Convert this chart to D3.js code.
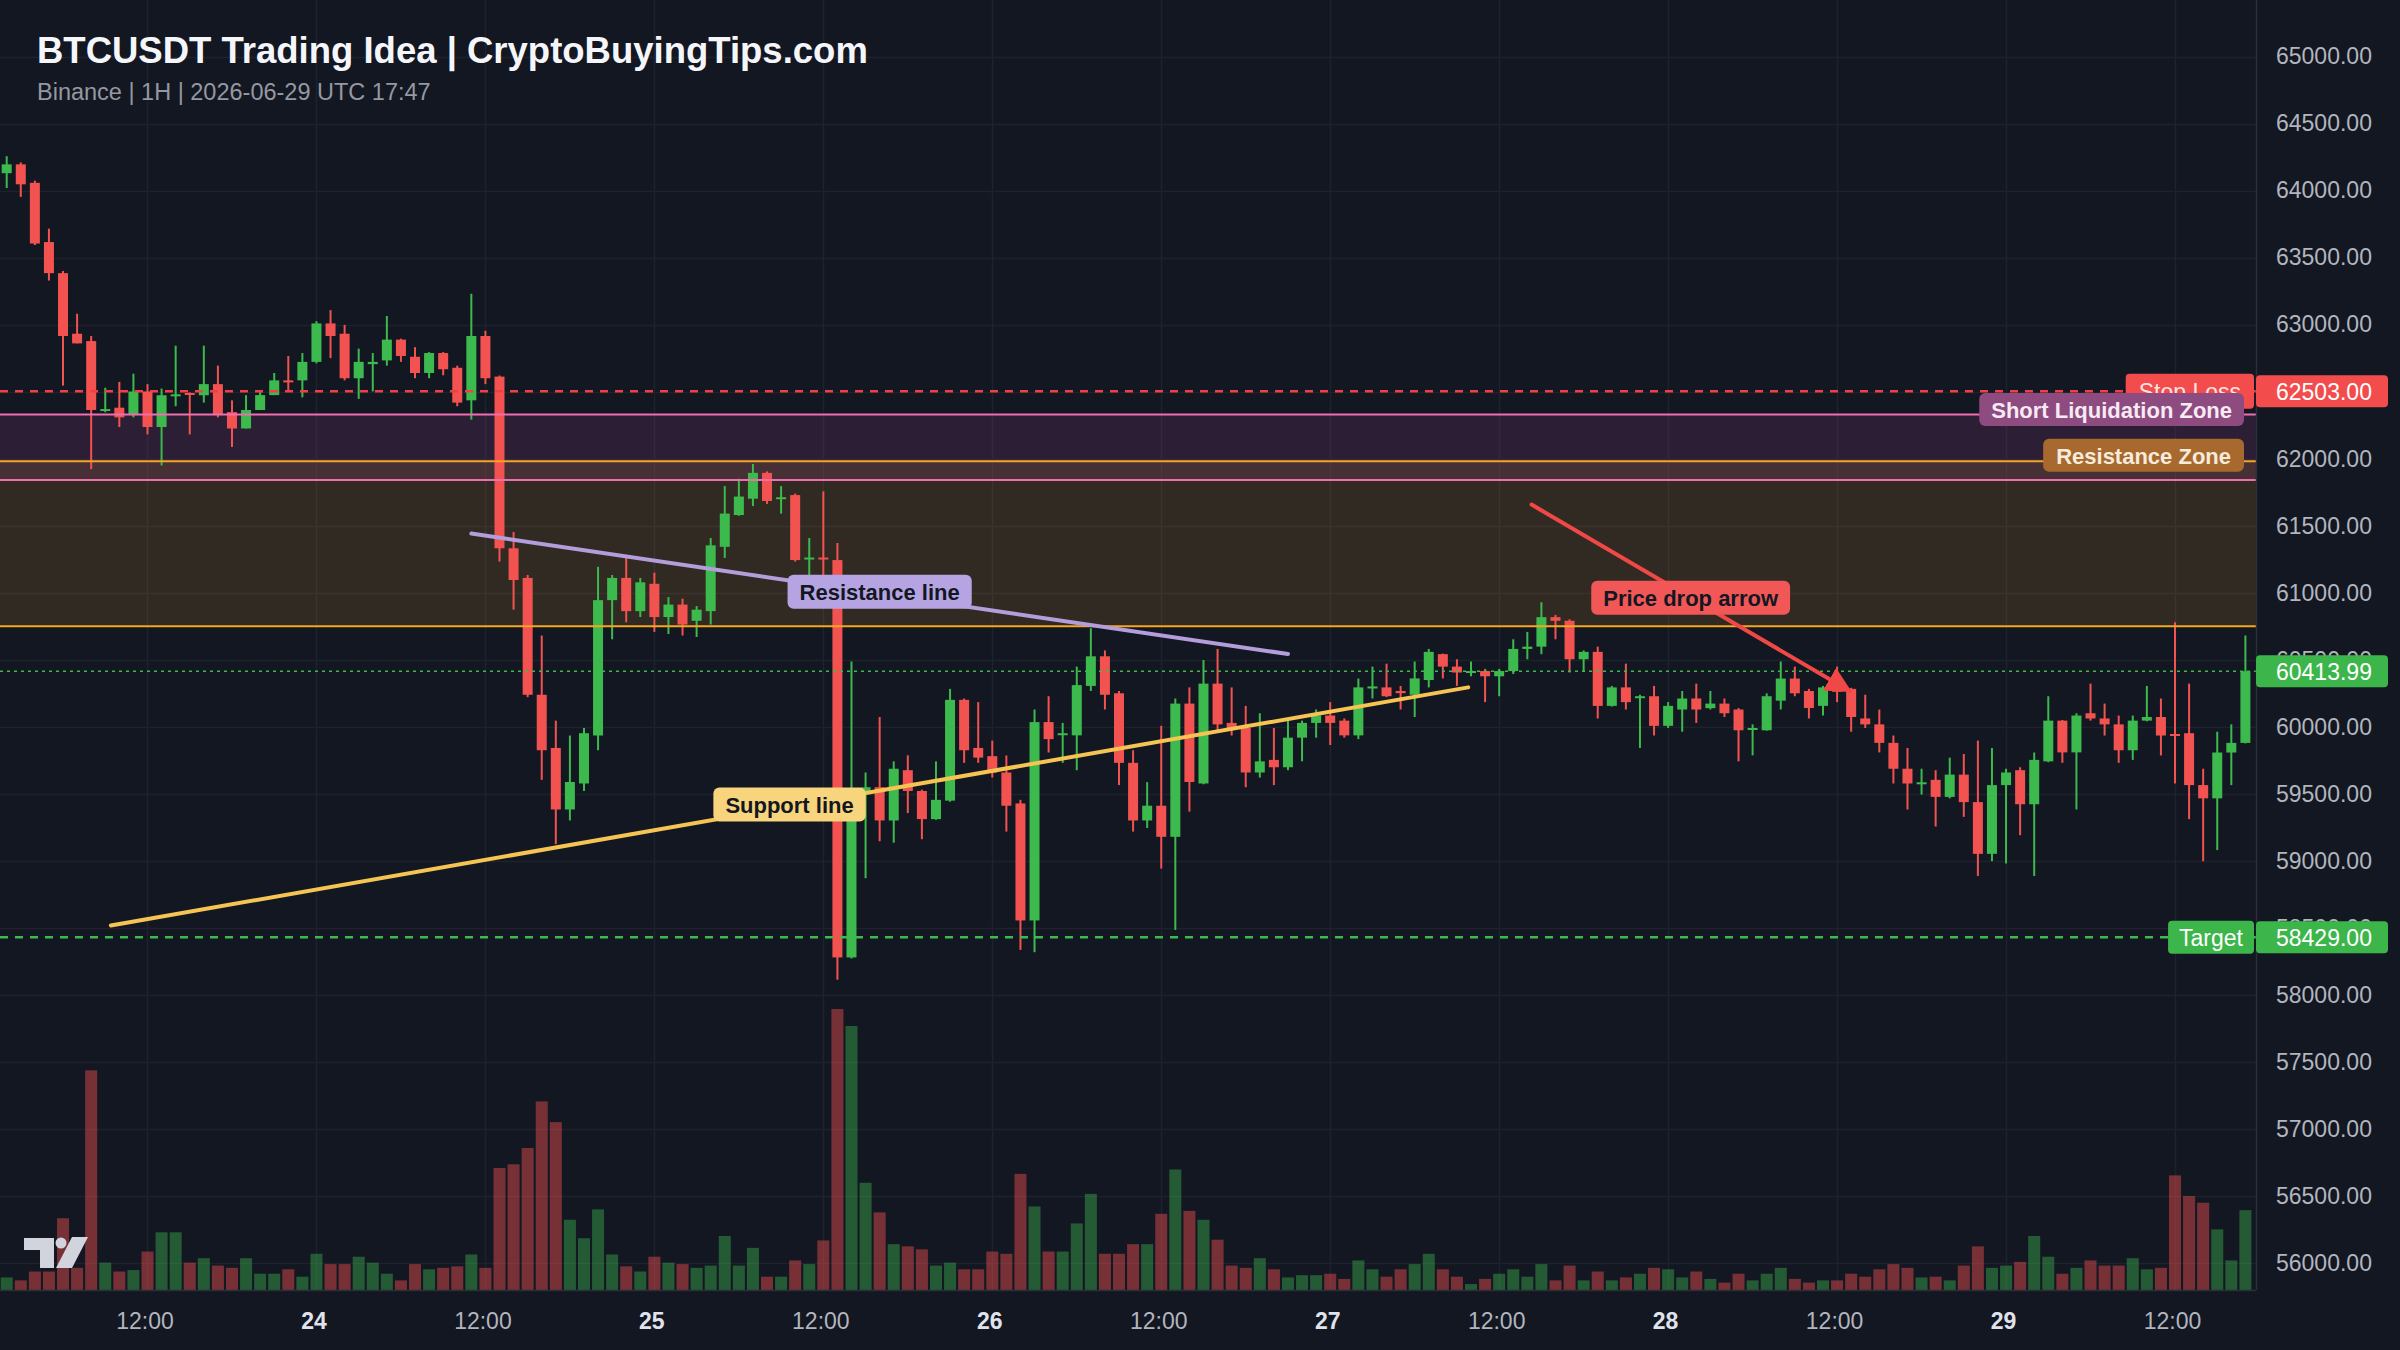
<!DOCTYPE html>
<html>
<head>
<meta charset="utf-8">
<script src="https://cdn.jsdelivr.net/npm/d3@7"></script>
<style>
  body { margin: 0; background: #131722; }
  svg { display: block; font-family: "Liberation Sans", Arial, Helvetica, sans-serif; }
</style>
</head>
<body>
<svg id="chart" width="2400" height="1350"></svg>
<script>
// BTCUSDT 1H candles, 2026-06-23 02:00 UTC .. 2026-06-29 17:00 UTC
var startTime = "2026-06-23T02:00:00Z";

var opens = [64130,64196,64058,63616,63384,62932,62877,62363,62380,62325,
  62501,62236,62470,62490,62473,62556,62347,62225,62363,62474,
  62584,62584,62722,63009,62932,62600,62705,62733,62888,62760,
  62639,62788,62678,62435,62915,62612,61331,61110,60238,59841,
  59382,59576,59934,60944,61110,60862,61066,60818,60911,60790,
  60862,61342,61579,61701,61894,61705,61728,61255,61262,61243,
  58278,59509,59548,59300,59675,59520,59310,59448,60200,59841,
  59780,59658,59427,58554,60034,59940,59935,60304,60525,60249,
  59730,59300,59410,59178,60172,59576,60321,60028,59990,59658,
  59752,59697,59918,60028,60083,60045,59935,60290,60293,60266,
  60238,60348,60541,60448,60408,60415,60376,60415,60580,60597,
  60817,60790,60503,60558,60155,60293,60220,60227,60006,60128,
  60210,60138,60172,60128,59980,59973,60194,60359,60266,60155,
  60320,60282,60061,60017,59879,59686,59570,59603,59476,59642,
  59437,59051,59564,59675,59421,59741,60045,59808,60100,60061,
  60017,59824,60045,60072,59945,59951,59564,59465,59807,59879];

var highs = [64257,64210,64074,63716,63400,63081,62915,62529,62573,62634,
  62556,62523,62843,62495,62843,62694,62435,62474,62512,62639,
  62766,62788,63026,63108,62998,62821,62788,63064,62895,62832,
  62795,62795,62694,63230,62954,62620,61452,61132,60680,60045,
  59934,59990,61193,61132,61259,61110,61149,60967,60955,60900,
  61408,61795,61850,61960,61905,61795,61739,61408,61756,61370,
  60486,59658,60072,59741,59786,59530,59741,60282,60210,60183,
  59896,59785,59454,60128,60227,60028,60448,60735,60569,60266,
  59824,59586,60006,60210,60293,60497,60580,60293,60155,60100,
  59990,60045,60045,60128,60183,60061,60359,60448,60470,60304,
  60486,60580,60545,60503,60486,60431,60431,60652,60707,60928,
  60834,60801,60569,60597,60304,60470,60238,60304,60183,60266,
  60321,60266,60210,60139,60017,60249,60486,60448,60282,60304,
  60448,60290,60238,60128,59934,59841,59686,59675,59769,59796,
  59896,59841,59686,59697,59807,60227,60050,60100,60321,60172,
  60083,60083,60304,60210,60779,60321,59686,59962,60017,60680];

var lows = [64019,63953,63594,63329,62545,62860,61922,62346,62236,62308,
  62181,61949,62391,62181,62418,62308,62087,62225,62363,62474,
  62501,62457,62711,62750,62584,62446,62501,62694,62722,62600,
  62600,62622,62391,62291,62556,61232,60873,60220,59603,59123,
  59300,59520,59824,60652,60779,60818,60707,60691,60680,60669,
  60762,61259,61574,61646,61662,61590,61232,61077,61077,58112,
  58270,58869,59145,59134,59355,59160,59305,59440,59730,59730,
  59620,59217,58334,58317,59807,59730,59675,60266,60128,59564,
  59217,59244,58941,58483,59366,59570,59962,59934,59548,59620,
  59564,59675,59741,59918,59863,59918,59907,60210,60220,60128,
  60072,60293,60360,60304,60376,60183,60227,60393,60503,60541,
  60652,60404,60415,60061,60150,60128,59840,59934,59990,59962,
  60028,60128,60072,59741,59786,59970,60128,60227,60061,60083,
  60183,59962,59990,59808,59576,59382,59493,59255,59465,59327,
  58886,58996,58979,59190,58886,59735,59730,59382,60045,59934,
  59730,59752,60040,59785,59576,59310,58996,59079,59564,59875];

var closes = [64196,64047,63605,63384,62915,62860,62363,62370,62308,62501,
  62236,62473,62480,62480,62556,62325,62225,62363,62474,62584,
  62578,62722,63009,62915,62600,62722,62722,62888,62766,62639,
  62788,62667,62418,62915,62600,61331,61094,60238,59824,59382,
  59587,59951,60944,61110,60862,61077,60818,60911,60762,60873,
  61353,61590,61717,61894,61684,61712,61243,61262,61250,58278,
  59300,59548,59300,59686,59520,59310,59454,60200,59824,59769,
  59658,59410,58554,60034,59907,59951,60310,60525,60238,59730,
  59300,59410,59178,60172,59587,60321,60017,59990,59658,59741,
  59697,59918,60028,60083,60028,59935,60293,60300,60227,60250,
  60360,60558,60448,60404,60415,60376,60415,60580,60597,60817,
  60790,60503,60558,60155,60293,60183,60227,60006,60155,60210,
  60128,60172,60100,59973,59990,60227,60359,60249,60139,60293,
  60260,60072,60017,59879,59686,59576,59585,59476,59642,59437,
  59051,59564,59658,59421,59752,60045,59808,60083,60061,60017,
  59824,60045,60072,59934,59940,59564,59465,59807,59879,60413.99];

var volumes = [170,130,250,250,970,300,2970,370,250,270,
  520,780,780,370,430,330,300,430,220,220,
  280,180,490,350,350,450,370,220,130,350,
  280,300,320,480,300,1650,1700,1920,2550,2270,
  950,700,1090,480,320,250,450,370,350,300,
  330,730,330,570,180,180,400,350,670,3800,
  3570,1450,1050,620,590,550,330,370,280,280,
  520,490,1570,1130,520,520,900,1300,490,490,
  620,620,1030,1630,1070,950,680,330,300,430,
  280,170,200,200,220,150,400,280,180,280,
  350,490,280,180,80,150,220,280,180,350,
  130,330,130,250,130,170,220,300,280,170,
  250,150,100,220,130,220,300,150,100,130,
  130,220,180,280,350,300,170,180,130,330,
  590,300,330,380,730,450,220,300,400,330,
  330,430,280,300,1550,1270,1180,820,400,1080];

var priceTicks = [56000,56500,57000,57500,58000,58500,59000,59500,60000,60500,
  61000,61500,62000,62500,63000,63500,64000,64500,65000];

// trade levels and zones
var stopLoss = 62503, target = 58429;
var shortLiqZone = [62330, 61840];
var resistanceZone = [61980, 60750];

// drawn lines: [time, price]
var supportLine = [["2026-06-23T09:24:00Z", 58516], ["2026-06-27T09:48:00Z", 60293]];
var resistanceLine = [["2026-06-24T11:00:00Z", 61441], ["2026-06-26T21:00:00Z", 60542]];
var dropArrow = [["2026-06-27T14:18:00Z", 61657], ["2026-06-28T12:54:00Z", 60266]];

var W = 2400, H = 1350, plotRight = 2256, plotBottom = 1290;
var upColor = "#3dba4e", downColor = "#f35350";

var t0 = new Date(startTime);
var candles = opens.map(function(o, i) {
  return { t: d3.utcHour.offset(t0, i), o: o, h: highs[i], l: lows[i], c: closes[i], v: volumes[i] };
});

var x = d3.scaleUtc()
  .domain([candles[0].t, candles[candles.length - 1].t])
  .range([6.7, 2245.4]);
var y = d3.scaleLinear().domain([56000, 65000]).range([1262.7, 56.6]);
var vy = d3.scaleLinear().domain([0, d3.max(volumes)]).range([plotBottom, 1009]);

var svg = d3.select("#chart");
svg.append("rect").attr("width", W).attr("height", H).attr("fill", "#131722");

// grid
var timeTicks = x.ticks(d3.utcHour.every(12));
var grid = svg.append("g");
grid.selectAll(".hg").data(priceTicks).enter().append("line")
  .attr("x1", 0).attr("x2", plotRight)
  .attr("y1", function(d) { return Math.round(y(d)) + 0.5; })
  .attr("y2", function(d) { return Math.round(y(d)) + 0.5; })
  .attr("stroke", "#1e222d").attr("stroke-width", 1.5);
grid.selectAll(".vg").data(timeTicks).enter().append("line")
  .attr("x1", function(d) { return Math.round(x(d)) + 0.5; })
  .attr("x2", function(d) { return Math.round(x(d)) + 0.5; })
  .attr("y1", 0).attr("y2", plotBottom)
  .attr("stroke", "#1e222d").attr("stroke-width", 1.5);

// zones
svg.append("rect")
  .attr("x", 0).attr("width", plotRight)
  .attr("y", y(resistanceZone[0])).attr("height", y(resistanceZone[1]) - y(resistanceZone[0]))
  .attr("fill", "rgba(255,167,38,0.13)");
svg.append("rect")
  .attr("x", 0).attr("width", plotRight)
  .attr("y", y(shortLiqZone[0])).attr("height", y(shortLiqZone[1]) - y(shortLiqZone[0]))
  .attr("fill", "rgba(200,80,170,0.14)");

// volume
svg.append("g").selectAll("rect").data(candles).enter().append("rect")
  .attr("x", function(d) { return x(d.t) - 6; })
  .attr("width", 12)
  .attr("y", function(d) { return vy(d.v); })
  .attr("height", function(d) { return plotBottom - vy(d.v); })
  .attr("fill", function(d) { return d.c >= d.o ? "rgba(61,186,78,0.42)" : "rgba(242,83,80,0.45)"; });

// candles
var cg = svg.append("g");
cg.selectAll("line").data(candles).enter().append("line")
  .attr("x1", function(d) { return x(d.t); })
  .attr("x2", function(d) { return x(d.t); })
  .attr("y1", function(d) { return y(d.h); })
  .attr("y2", function(d) { return y(d.l); })
  .attr("stroke", function(d) { return d.c >= d.o ? upColor : downColor; })
  .attr("stroke-width", 2);
cg.selectAll("rect").data(candles).enter().append("rect")
  .attr("x", function(d) { return x(d.t) - 5; })
  .attr("width", 10)
  .attr("y", function(d) { return y(Math.max(d.o, d.c)); })
  .attr("height", function(d) { return Math.max(2, Math.abs(y(d.o) - y(d.c))); })
  .attr("fill", function(d) { return d.c >= d.o ? upColor : downColor; });

// horizontal levels
function hline(price, color, width, dash) {
  svg.append("line")
    .attr("x1", 0).attr("x2", plotRight)
    .attr("y1", y(price)).attr("y2", y(price))
    .attr("stroke", color).attr("stroke-width", width)
    .attr("stroke-dasharray", dash);
}
var lastPrice = closes[closes.length - 1];
hline(lastPrice, "#3dba4e", 1.5, "3,4");
hline(stopLoss, "#f23f45", 2.5, "8,7");
hline(target, "#3dba4e", 2.5, "8,7");
hline(shortLiqZone[0], "#f06eb0", 2, null);
hline(shortLiqZone[1], "#f06eb0", 2, null);
hline(resistanceZone[0], "#f5a623", 2, null);
hline(resistanceZone[1], "#f5a623", 2, null);

// trend lines
function pt(p) { return [x(new Date(p[0])), y(p[1])]; }
function trend(pts, color, width) {
  var a = pt(pts[0]), b = pt(pts[1]);
  svg.append("line")
    .attr("x1", a[0]).attr("y1", a[1]).attr("x2", b[0]).attr("y2", b[1])
    .attr("stroke", color).attr("stroke-width", width).attr("stroke-linecap", "round");
  return [(a[0] + b[0]) / 2, (a[1] + b[1]) / 2];
}
var resMid = trend(resistanceLine, "#b39ddb", 4);
var supMid = trend(supportLine, "#f6c453", 4);

svg.append("defs").append("marker")
  .attr("id", "arrowhead")
  .attr("viewBox", "0 0 10 10")
  .attr("refX", 9).attr("refY", 5)
  .attr("markerWidth", 26).attr("markerHeight", 26)
  .attr("markerUnits", "userSpaceOnUse")
  .attr("orient", "auto")
  .append("path").attr("d", "M0,0 L10,5 L0,10 Z").attr("fill", "#f04747");
var a0 = pt(dropArrow[0]), a1 = pt(dropArrow[1]);
svg.append("line")
  .attr("x1", a0[0]).attr("y1", a0[1]).attr("x2", a1[0]).attr("y2", a1[1])
  .attr("stroke", "#f04747").attr("stroke-width", 4).attr("stroke-linecap", "round")
  .attr("marker-end", "url(#arrowhead)");
var arrMid = [(a0[0] + a1[0]) / 2, (a0[1] + a1[1]) / 2];

// label helper: anchor "middle" uses cx, "end" uses right edge
function tag(px, py, text, fill, color, opts) {
  opts = opts || {};
  var g = svg.append("g");
  var t = g.append("text").text(text)
    .attr("font-size", opts.size || 22)
    .attr("font-weight", opts.bold ? "bold" : "normal")
    .attr("fill", color)
    .attr("dominant-baseline", "central");
  var tw = t.node().getComputedTextLength();
  var pad = opts.pad || 12, h = opts.h || 34;
  var bw = tw + pad * 2;
  var left = opts.anchor === "end" ? px - bw : px - bw / 2;
  g.insert("rect", "text")
    .attr("x", left).attr("y", py - h / 2)
    .attr("width", bw).attr("height", h)
    .attr("rx", opts.rx || 6).attr("fill", fill);
  t.attr("x", left + pad).attr("y", py + 1);
  return g;
}

tag(resMid[0], resMid[1] - 2, "Resistance line", "#b6a4e2", "#131722", { bold: true });
tag(supMid[0], supMid[1] - 2, "Support line", "#f8d47c", "#131722", { bold: true });
tag(arrMid[0], arrMid[1], "Price drop arrow", "#f25757", "#131722", { bold: true });

tag(plotRight - 2, y(stopLoss), "Stop Loss", "#f24c4c", "#ffe3e3", { anchor: "end", size: 23, h: 35, rx: 4, pad: 13 });
tag(plotRight - 2, y(target), "Target", "#3cb54a", "#ffffff", { anchor: "end", size: 23, h: 33, rx: 4, pad: 11 });
tag(plotRight - 12, y(shortLiqZone[0]) - 5, "Short Liquidation Zone", "#8d4b80", "#f6eaf3", { anchor: "end", bold: true, h: 33, pad: 12 });
tag(plotRight - 12, y(resistanceZone[0]) - 6, "Resistance Zone", "#a8692e", "#f7ebdd", { anchor: "end", bold: true, h: 33, pad: 13 });

// axes frame
svg.append("line").attr("x1", plotRight + 0.5).attr("x2", plotRight + 0.5)
  .attr("y1", 0).attr("y2", plotBottom).attr("stroke", "#2a2e39").attr("stroke-width", 1.5);
svg.append("line").attr("x1", 0).attr("x2", plotRight)
  .attr("y1", plotBottom + 0.5).attr("y2", plotBottom + 0.5).attr("stroke", "#2a2e39").attr("stroke-width", 1.5);

// price axis
var yAxis = d3.axisRight(y).tickValues(priceTicks).tickSize(0).tickPadding(20)
  .tickFormat(d3.format(".2f"));
var ya = svg.append("g").attr("transform", "translate(" + plotRight + ",0)").call(yAxis);
ya.select(".domain").remove();
ya.selectAll("text").attr("fill", "#b2b5be").attr("font-size", 23)
  .attr("font-family", "Liberation Sans, Arial, sans-serif");

function priceTag(price, fill) {
  var py = y(price);
  svg.append("rect").attr("x", plotRight).attr("y", py - 16).attr("width", 132).attr("height", 32)
    .attr("rx", 4).attr("fill", fill);
  svg.append("text").attr("x", plotRight + 20).attr("y", py + 1)
    .attr("dominant-baseline", "central").attr("font-size", 23).attr("fill", "#ffffff")
    .text(d3.format(".2f")(price));
}
priceTag(stopLoss, "#f24c4c");
priceTag(lastPrice, "#3cb54a");
priceTag(target, "#3cb54a");

// time axis
var xAxis = d3.axisBottom(x).tickValues(timeTicks).tickSize(0).tickPadding(0)
  .tickFormat(function(d) { return d.getUTCHours() === 0 ? d3.utcFormat("%-d")(d) : "12:00"; });
var xa = svg.append("g").attr("transform", "translate(-3,1321)").call(xAxis);
xa.select(".domain").remove();
xa.selectAll("text")
  .attr("dy", "0.35em").attr("y", 0)
  .attr("font-size", 23)
  .attr("font-family", "Liberation Sans, Arial, sans-serif")
  .attr("font-weight", function(d) { return d.getUTCHours() === 0 ? "bold" : "normal"; })
  .attr("fill", function(d) { return d.getUTCHours() === 0 ? "#e0e3eb" : "#b2b5be"; });

// title
svg.append("text").attr("x", 37).attr("y", 63)
  .attr("font-size", 36.5).attr("font-weight", "bold").attr("fill", "#f5f6fa")
  .text("BTCUSDT Trading Idea | CryptoBuyingTips.com");
svg.append("text").attr("x", 37).attr("y", 100)
  .attr("font-size", 23.5).attr("fill", "#9598a1")
  .text("Binance | 1H | 2026-06-29 UTC 17:47");

// TradingView mark
var logo = svg.append("g").attr("fill", "#d1d4dc");
logo.append("path").attr("d", "M24,1238 H54 V1268 H40 V1250 H24 Z");
logo.append("circle").attr("cx", 61).attr("cy", 1243).attr("r", 5.5);
logo.append("path").attr("d", "M56,1268 L72,1237 H88 L72,1268 Z");
</script>
</body>
</html>
